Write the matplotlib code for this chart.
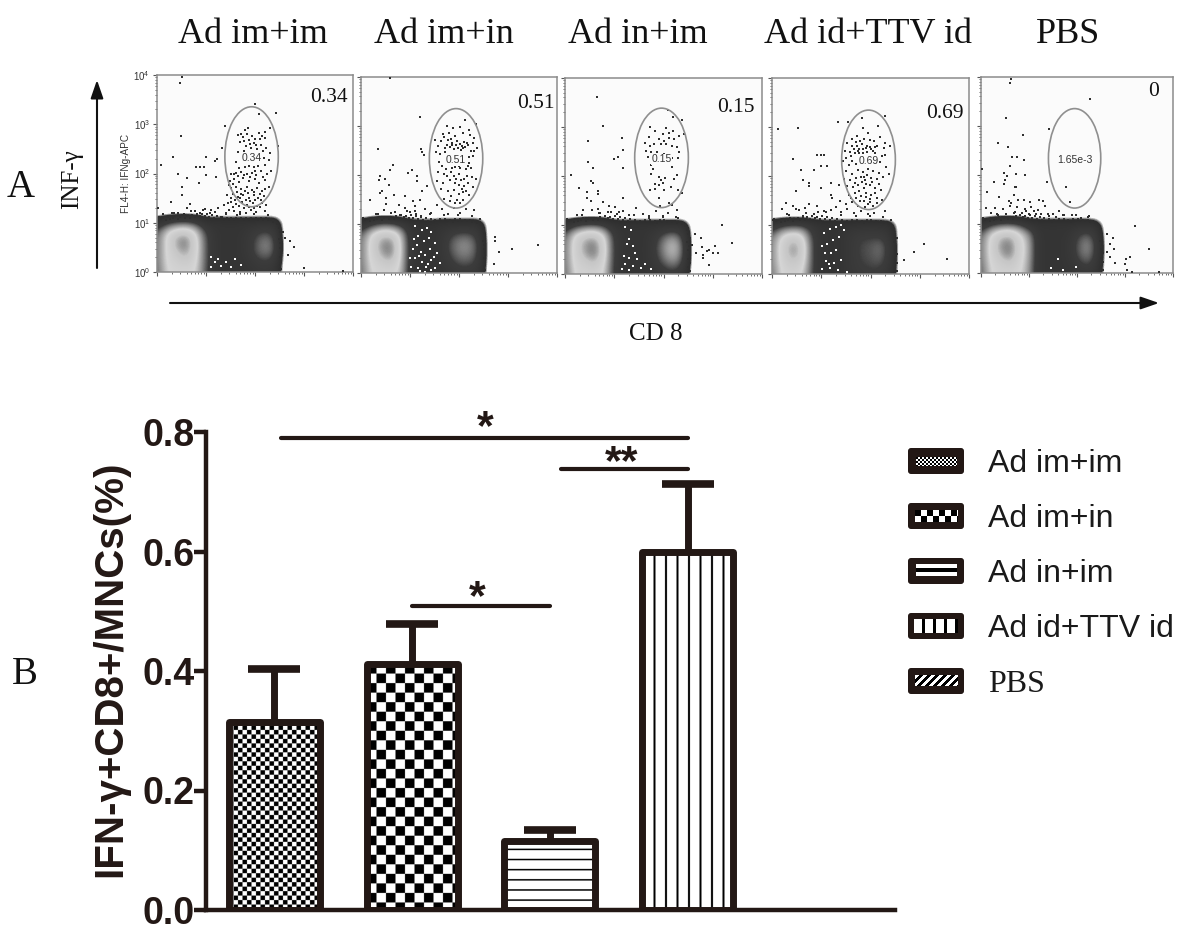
# chart: flow cytometry panels (A) and IFN-gamma bar chart (B)
import numpy as np
import matplotlib
matplotlib.use("Agg")
import matplotlib.pyplot as plt
from matplotlib.colors import LinearSegmentedColormap
from matplotlib.patches import Ellipse, FancyBboxPatch

# =========================
# DATA
# =========================
groups = ["Ad im+im", "Ad im+in", "Ad in+im", "Ad id+TTV id", "PBS"]
means = [0.315, 0.411, 0.116, 0.60, 0.0]
errors = [0.088, 0.068, 0.018, 0.113, 0.0]
y_ticks = [0.0, 0.2, 0.4, 0.6, 0.8]

header_pct = ["0.34", "0.51", "0.15", "0.69", "0"]
gate_text = ["0.34", "0.51", "0.15", "0.69", "1.65e-3"]
gate_x = [1.93, 1.94, 1.96, 1.96, 1.95]
gate_y = [2.34, 2.34, 2.37, 2.33, 2.34]

# density of the two cell populations, rows from y=0 to y=1.2, columns from x=0 to x=2.8 (decades)
density_1 = [
    [.52, .74, .76, .76, .74, .48, .32, .30, .30, .30, .34, .38, .32, 0, 0],
    [.55, .76, .80, .85, .76, .50, .32, .30, .30, .32, .42, .46, .40, 0, 0],
    [.55, .76, .88, .95, .78, .50, .32, .30, .30, .36, .50, .58, .50, 0, 0],
    [.55, .76, .95, 1.0, .78, .50, .32, .30, .30, .36, .50, .60, .50, 0, 0],
    [.52, .74, .85, .88, .74, .46, .32, .30, .30, .34, .44, .50, .42, 0, 0],
    [.28, .42, .50, .52, .44, .28, .28, .28, .28, .28, .28, .28, .28, .04, 0],
    [0, 0, 0, 0, 0, 0, 0, 0, 0, 0, 0, 0, 0, 0, 0],
]
density_2 = [
    [.52, .74, .76, .76, .72, .36, .28, .28, .30, .34, .40, .40, .34, 0, 0],
    [.55, .76, .82, .88, .74, .38, .28, .28, .32, .42, .50, .50, .42, 0, 0],
    [.55, .78, .92, 1.0, .76, .38, .28, .28, .34, .48, .58, .58, .46, 0, 0],
    [.55, .78, .95, 1.0, .76, .38, .28, .28, .34, .50, .60, .60, .46, 0, 0],
    [.52, .74, .85, .86, .72, .36, .28, .28, .32, .44, .50, .50, .40, 0, 0],
    [.28, .42, .52, .52, .42, .28, .26, .24, .28, .28, .28, .28, .28, .03, 0],
    [0, 0, 0, 0, 0, 0, 0, 0, 0, 0, 0, 0, 0, 0, 0],
]
density_3 = [
    [.52, .76, .78, .78, .74, .42, .30, .30, .30, .32, .38, .42, .34, 0, 0],
    [.55, .78, .82, .88, .76, .44, .30, .30, .30, .38, .50, .58, .46, 0, 0],
    [.55, .80, .92, 1.0, .80, .44, .30, .30, .30, .42, .58, .70, .52, 0, 0],
    [.55, .80, .95, 1.0, .80, .44, .30, .30, .30, .42, .60, .72, .52, 0, 0],
    [.52, .76, .85, .88, .74, .42, .30, .30, .30, .38, .50, .58, .44, 0, 0],
    [.28, .42, .50, .52, .44, .28, .28, .28, .28, .28, .28, .28, .28, .03, 0],
    [0, 0, 0, 0, 0, 0, 0, 0, 0, 0, 0, 0, 0, 0, 0],
]
density_4 = [
    [.54, .76, .78, .76, .50, .30, .28, .30, .38, .42, .44, .42, .32, 0, 0],
    [.58, .78, .85, .82, .52, .30, .28, .30, .40, .46, .48, .50, .38, 0, 0],
    [.58, .80, .95, .88, .52, .30, .28, .30, .40, .48, .50, .55, .40, 0, 0],
    [.58, .80, .95, .88, .52, .30, .28, .30, .40, .48, .50, .55, .40, 0, 0],
    [.54, .74, .80, .78, .48, .30, .28, .30, .38, .44, .44, .44, .34, 0, 0],
    [.30, .42, .48, .46, .36, .28, .28, .28, .28, .28, .28, .28, .26, .03, 0],
    [0, 0, 0, 0, 0, 0, 0, 0, 0, 0, 0, 0, 0, 0, 0],
]
density_5 = [
    [.50, .74, .78, .78, .76, .62, .32, .30, .30, .30, .34, .38, .32, 0, 0],
    [.54, .76, .82, .88, .78, .64, .32, .30, .30, .32, .42, .52, .38, 0, 0],
    [.55, .78, .92, 1.0, .80, .66, .32, .30, .30, .34, .50, .60, .44, 0, 0],
    [.55, .78, .95, 1.0, .80, .66, .32, .30, .30, .34, .50, .62, .44, 0, 0],
    [.52, .74, .85, .88, .76, .60, .32, .30, .30, .32, .44, .52, .38, 0, 0],
    [.28, .42, .50, .52, .46, .30, .28, .28, .28, .28, .28, .28, .24, .02, 0],
    [0, 0, 0, 0, 0, 0, 0, 0, 0, 0, 0, 0, 0, 0, 0],
]

# single events, (x, y) in decades
events_1 = [
    (.52, 3.95), (.46, 3.83), (.49, 2.77), (.33, 2.33), (.08, 2.18), (.43, 2.0), (.61, 1.91), (.80, 2.14),
    (.88, 2.14), (.96, 2.14), (.99, 2.33), (.99, 1.96), (.85, 1.81), (.52, 1.72), (.52, 1.56), (1.19, 2.26),
    (1.23, 2.29), (1.21, 1.92), (1.32, 2.51), (1.39, 2.96), (2.01, 3.42), (2.08, 3.2), (2.42, 3.23), (2.47, 2.56),
    (1.79, 2.89), (1.86, 2.93), (1.72, 2.8), (1.65, 2.78), (1.93, 2.76), (2.08, 2.82), (2.2, 2.85), (2.3, 2.92),
    (1.77, 2.66), (1.88, 2.68), (1.98, 2.62), (2.1, 2.7), (2.2, 2.72), (2.13, 2.58), (1.7, 2.63), (1.82, 2.55),
    (1.92, 2.52), (2.05, 2.5), (2.22, 2.52), (2.3, 2.42), (1.66, 2.44), (1.73, 2.38), (2.29, 2.27), (2.18, 2.32),
    (1.62, 2.24), (1.68, 2.12), (1.8, 2.14), (1.88, 2.15), (1.97, 2.14), (2.06, 2.15), (2.2, 2.18), (2.32, 2.05),
    (1.52, 2.0), (1.61, 2.02), (1.72, 2.03), (1.83, 1.98), (1.94, 2.02), (2.03, 1.96), (2.12, 2.05), (2.25, 1.98),
    (1.48, 1.85), (1.58, 1.88), (1.68, 1.82), (1.76, 1.9), (1.87, 1.84), (1.99, 1.88), (2.09, 1.8), (2.2, 1.86),
    (1.5, 1.7), (1.62, 1.73), (1.72, 1.68), (1.84, 1.72), (1.93, 1.66), (2.04, 1.7), (2.14, 1.64), (2.28, 1.72),
    (1.42, 1.56), (1.55, 1.58), (1.65, 1.52), (1.76, 1.56), (1.88, 1.5), (1.97, 1.56), (2.07, 1.5), (2.18, 1.54),
    (1.52, 1.42), (1.62, 1.38), (1.74, 1.42), (1.83, 1.36), (1.95, 1.4), (2.05, 1.34), (2.14, 1.4), (2.22, 1.36),
    (1.25, 1.3), (1.36, 1.36), (1.46, 1.26), (1.58, 1.24), (1.7, 1.22), (1.82, 1.2), (1.92, 1.25), (2.03, 1.22),
    (.03, 1.3), (.12, 1.18), (.28, 1.42), (.31, 1.2), (.42, 1.2), (.55, 1.18), (.62, 1.3), (.68, 1.38),
    (.78, 1.24), (.88, 1.2), (.97, 1.28), (1.08, 1.2), (1.18, 1.22), (1.3, 1.12), (2.58, .82), (2.62, .7),
    (2.72, .62), (2.8, .5), (2.68, .35), (3.0, .08), (3.8, .02),
    (1.76, 2.74), (1.84, 2.8), (2.0, 2.7), (2.15, 2.76), (1.9, 2.6), (2.02, 2.58), (2.16, 2.46), (1.78, 2.46),
    (1.58, 1.98), (1.66, 1.94), (1.78, 1.96), (1.9, 1.92), (2.0, 2.06), (2.16, 1.92), (1.46, 1.76), (1.56, 1.78),
    (1.64, 1.62), (1.72, 1.58), (1.8, 1.64), (1.86, 1.6), (1.98, 1.62), (2.1, 1.58), (2.2, 1.68), (1.5, 1.5),
    (1.6, 1.46), (1.7, 1.5), (1.82, 1.46), (1.9, 1.44), (2.0, 1.46), (2.12, 1.46), (1.44, 1.4), (1.56, 1.32),
    (1.68, 1.34), (1.78, 1.3), (1.88, 1.32), (1.98, 1.3), (2.1, 1.32), (2.2, 1.24), (1.4, 1.18), (1.64, 1.16),
]
events_2 = [
    (.59, 3.98), (1.21, 3.18), (.34, 2.54), (1.22, 2.54), (1.24, 2.46), (1.29, 2.41), (.65, 2.21), (.59, 2.11),
    (1.05, 2.11), (.96, 2.04), (.39, 1.97), (.36, 1.9), (.48, 1.92), (.58, 1.79), (1.14, 1.97), (1.14, 1.88),
    (1.35, 1.77), (1.24, 1.67), (.43, 1.67), (.39, 1.63), (.67, 1.6), (.9, 1.58), (.52, 1.54), (.18, 1.48),
    (.5, 1.41), (.77, 1.38), (1.07, 1.46), (1.21, 1.48), (.46, 1.29), (.9, 1.33), (1.11, 1.36), (3.08, .49),
    (3.61, .58), (2.73, .73), (2.74, .65), (2.81, .42), (2.71, .19), (2.12, 3.12), (2.34, 3.05), (1.75, 3.0),
    (1.88, 2.96), (2.02, 2.98), (2.2, 2.92), (1.68, 2.84), (1.8, 2.86), (1.92, 2.8), (2.08, 2.85), (2.22, 2.82),
    (2.3, 2.76), (1.52, 2.72), (1.64, 2.7), (1.78, 2.72), (1.86, 2.66), (1.96, 2.7), (2.1, 2.68), (2.18, 2.62),
    (2.28, 2.66), (1.58, 2.6), (1.72, 2.56), (1.82, 2.58), (1.9, 2.54), (1.98, 2.56), (2.04, 2.52), (2.12, 2.58),
    (2.24, 2.5), (2.36, 2.56), (1.53, 2.46), (1.62, 2.42), (2.2, 2.36), (2.28, 2.38), (2.18, 2.18), (1.6, 2.26),
    (1.65, 2.18), (1.82, 2.22), (1.92, 2.16), (2.03, 2.14), (2.14, 2.12), (2.24, 2.14), (1.58, 2.06), (1.7, 2.02),
    (1.84, 2.06), (1.9, 1.98), (2.0, 2.03), (2.1, 1.92), (2.26, 1.96), (2.34, 1.92), (1.55, 1.88), (1.68, 1.84),
    (1.82, 1.9), (1.92, 1.84), (2.0, 1.8), (2.1, 1.78), (2.18, 1.84), (2.28, 1.76), (1.64, 1.72), (1.78, 1.68),
    (1.9, 1.7), (2.0, 1.62), (2.08, 1.66), (2.2, 1.6), (1.7, 1.52), (1.82, 1.46), (1.96, 1.5), (2.08, 1.48),
    (1.3, 1.3), (1.42, 1.22), (1.55, 1.38), (1.66, 1.3), (1.78, 1.2), (1.9, 1.32), (2.02, 1.22), (2.14, 1.3),
    (2.3, 1.28), (.3, 1.2), (.62, 1.22), (.8, 1.18), (1.0, 1.24), (1.12, 1.2), (1.22, 1.16), (2.42, 1.1),
    (1.7, 2.78), (1.84, 2.74), (1.94, 2.62), (2.02, 2.64), (2.08, 2.56), (2.16, 2.66), (1.76, 2.62), (1.86, 2.62),
    (1.72, 2.46), (2.3, 2.5), (2.06, 2.6), (1.74, 2.12), (1.86, 2.14), (2.0, 2.18), (2.2, 2.24), (1.76, 1.98),
    (1.94, 1.92), (2.04, 1.9), (2.16, 1.98), (2.06, 1.72), (2.14, 1.68), (1.84, 1.58), (2.02, 1.42), (1.92, 1.42),
]
events_3 = [
    (.65, 3.61), (.78, 3.03), (.47, 2.72), (1.16, 2.78), (1.18, 2.53), (1.08, 2.38), (1.0, 2.34), (.47, 2.28),
    (.56, 2.17), (1.18, 2.17), (.12, 2.03), (.53, 1.9), (.56, 1.86), (.28, 1.76), (.44, 1.67), (.67, 1.7),
    (.67, 1.63), (.44, 1.56), (.53, 1.5), (1.18, 1.56), (.78, 1.47), (2.1, 3.35), (2.2, 3.2), (2.38, 3.14),
    (2.42, 2.85), (1.72, 3.0), (1.82, 2.92), (1.98, 2.86), (2.05, 2.98), (2.12, 2.88), (2.2, 2.92), (1.7, 2.8),
    (1.9, 2.75), (2.02, 2.72), (2.12, 2.78), (2.22, 2.75), (2.32, 2.82), (1.62, 2.68), (1.72, 2.62), (1.8, 2.66),
    (1.95, 2.65), (2.05, 2.66), (2.18, 2.62), (2.28, 2.6), (1.65, 2.52), (1.75, 2.48), (1.86, 2.5), (2.0, 2.44),
    (2.32, 2.5), (1.68, 2.38), (2.18, 2.36), (2.3, 2.36), (1.74, 2.22), (1.78, 2.14), (1.9, 2.24), (2.18, 2.18),
    (1.75, 2.04), (1.9, 1.98), (1.94, 1.92), (2.04, 1.96), (2.22, 1.94), (2.28, 2.02), (1.82, 1.84), (1.9, 1.82),
    (1.98, 1.86), (1.72, 1.72), (1.82, 1.74), (2.02, 1.72), (2.15, 1.78), (2.3, 1.72), (2.38, 1.65), (1.9, 1.55),
    (2.12, 1.45), (1.84, 1.28), (1.92, 1.38), (2.18, 1.4), (2.28, 1.3), (1.45, 1.35), (1.58, 1.22), (1.3, 1.2),
    (1.18, 1.28), (.55, 1.3), (.68, 1.32), (.9, 1.38), (1.02, 1.36), (.36, 1.3), (.24, 1.2), (.72, 1.24),
    (.88, 1.26), (1.06, 1.22), (1.7, 1.15), (1.98, 1.16), (2.1, 1.24), (2.3, 1.14), (3.18, 1.0), (2.76, .73),
    (2.78, .56), (2.92, .5), (3.04, .58), (2.88, .46), (3.0, .42), (3.1, .42), (2.8, .38), (2.8, .32),
    (2.92, .18), (3.4, .64), (2.64, .82), (2.58, .6), (2.66, .42),
]
events_4 = [
    (.12, 2.95), (.52, 2.98), (1.35, 3.1), (2.3, 3.22), (1.82, 3.18), (1.55, 3.1), (2.16, 3.02), (.42, 2.35),
    (.58, 2.12), (.86, 2.12), (.92, 2.42), (1.0, 2.42), (1.06, 2.42), (1.12, 2.2), (1.0, 2.2), (.62, 1.92),
    (.75, 1.85), (.75, 1.8), (.48, 1.7), (1.0, 1.75), (1.2, 1.85), (.28, 1.45), (.48, 1.32), (.75, 1.42),
    (.92, 1.38), (1.2, 1.62), (1.22, 1.55), (.3, 1.22), (.55, 1.3), (.62, 1.18), (.85, 1.22), (1.05, 1.28),
    (1.2, 1.3), (3.08, .62), (3.55, .3), (2.88, .45), (2.68, .28), (1.62, 2.75), (1.72, 2.82), (1.85, 2.98),
    (1.95, 2.88), (2.08, 2.72), (2.2, 2.8), (2.3, 2.68), (1.52, 2.68), (1.62, 2.62), (1.72, 2.62), (1.82, 2.66),
    (1.92, 2.62), (2.02, 2.56), (2.14, 2.62), (2.28, 2.58), (2.4, 2.62), (1.48, 2.52), (1.58, 2.48), (1.68, 2.46),
    (1.76, 2.46), (1.84, 2.46), (1.92, 2.5), (2.1, 2.46), (2.3, 2.42), (1.44, 2.3), (1.56, 2.22), (1.62, 2.3),
    (2.2, 2.28), (2.32, 2.18), (1.5, 2.1), (1.62, 2.05), (1.74, 2.12), (1.84, 2.08), (1.94, 2.14), (2.06, 2.1),
    (2.18, 2.06), (2.38, 2.04), (1.46, 1.94), (1.58, 1.92), (1.7, 1.96), (1.8, 1.98), (1.88, 1.92), (1.92, 2.02),
    (2.02, 1.96), (2.14, 1.94), (2.26, 1.98), (1.36, 1.82), (1.52, 1.8), (1.64, 1.78), (1.74, 1.82), (1.86, 1.76),
    (1.98, 1.82), (2.1, 1.76), (2.22, 1.72), (1.56, 1.62), (1.68, 1.66), (1.8, 1.6), (1.9, 1.66), (2.02, 1.62),
    (2.14, 1.56), (2.24, 1.52), (1.38, 1.48), (1.5, 1.42), (1.62, 1.46), (1.74, 1.38), (1.86, 1.5), (1.94, 1.42),
    (2.06, 1.38), (1.3, 1.36), (1.4, 1.26), (1.52, 1.32), (1.66, 1.24), (1.8, 1.28), (1.94, 1.22), (2.08, 1.24),
    (2.3, 1.28), (2.42, 1.1), (.2, 1.32), (.42, 1.38), (.68, 1.34), (.02, 1.1),
    (1.7, 2.7), (1.78, 2.72), (1.86, 2.76), (1.98, 2.74), (2.1, 2.6), (1.76, 2.56), (1.84, 2.56), (1.9, 2.58),
    (1.98, 2.6), (2.06, 2.52), (1.66, 2.56), (1.74, 2.52), (1.6, 2.4), (1.5, 2.36), (2.24, 2.4), (1.7, 2.24),
    (1.82, 1.88), (1.86, 1.98), (1.9, 1.84), (1.68, 1.86), (2.04, 1.88), (2.18, 1.84), (1.76, 1.7), (1.9, 1.58),
    (1.98, 1.54), (2.1, 1.66), (1.7, 1.56), (1.6, 1.56), (1.78, 1.48), (1.98, 1.46), (2.14, 1.44), (1.88, 1.36),
]
events_5 = [
    (.63, 3.95), (.6, 3.88), (2.28, 3.55), (.53, 3.17), (1.42, 2.93), (.88, 2.82), (.35, 2.66), (.56, 2.58),
    (.65, 2.36), (.76, 2.36), (.9, 2.3), (.6, 2.18), (.03, 2.12), (.48, 2.05), (.55, 1.98), (.72, 2.03),
    (.92, 2.0), (.28, 1.86), (.48, 1.82), (.5, 1.9), (.7, 1.76), (.73, 1.76), (1.38, 1.85), (1.78, 1.75),
    (.13, 1.66), (.38, 1.55), (.68, 1.6), (1.86, 1.45), (.58, 1.46), (.62, 1.42), (.78, 1.48), (.9, 1.48),
    (1.02, 1.44), (1.2, 1.5), (1.3, 1.46), (.1, 1.32), (.3, 1.32), (.45, 1.3), (.6, 1.36), (.75, 1.34),
    (.92, 1.3), (1.05, 1.34), (1.18, 1.28), (1.34, 1.36), (1.5, 1.2), (1.62, 1.26), (.2, 1.22), (.36, 1.18),
    (.52, 1.2), (.68, 1.22), (.85, 1.22), (1.0, 1.2), (1.14, 1.2), (1.26, 1.2), (1.42, 1.16), (1.56, 1.14),
    (1.72, 1.18), (1.9, 1.18), (2.08, 1.12), (2.22, 1.14), (2.62, .8), (2.74, .72), (2.68, .6), (2.78, .5),
    (2.62, .42), (2.68, .32), (2.8, .2), (3.0, .18), (3.02, .28), (3.1, .32), (3.5, .5), (3.2, .95),
    (3.05, .06), (3.15, .03), (3.7, .02),
]
# rough top and right border of the dark area, about the same in every panel
rim_events = [
    (.04, 1.12), (.08, 1.08), (.13, 1.1), (.18, 1.06), (.22, 1.12), (.27, 1.08), (.32, 1.1), (.37, 1.14),
    (.42, 1.08), (.47, 1.12), (.52, 1.15), (.57, 1.1), (.62, 1.14), (.67, 1.1), (.72, 1.16), (.77, 1.12),
    (.82, 1.18), (.87, 1.14), (.92, 1.17), (.97, 1.13), (1.02, 1.18), (1.07, 1.12), (1.12, 1.16), (1.17, 1.1),
    (1.22, 1.14), (1.27, 1.08), (1.32, 1.12), (1.37, 1.06), (1.42, 1.1), (1.47, 1.05), (1.52, 1.09), (1.57, 1.06),
    (1.62, 1.1), (1.67, 1.07), (1.72, 1.1), (1.77, 1.06), (1.82, 1.09), (1.87, 1.05), (1.92, 1.1), (1.97, 1.07),
    (2.02, 1.1), (2.07, 1.06), (2.12, 1.09), (2.17, 1.06), (2.22, 1.09), (2.27, 1.05), (2.32, 1.06), (2.37, 1.02),
    (2.44, .98), (2.48, .9), (2.5, .82), (2.53, .74), (2.48, .66), (2.52, .58), (2.5, .48), (2.54, .4),
    (2.5, .3), (2.54, .22), (2.5, .14), (2.54, .06), (.34, 1.2), (.7, 1.24), (.94, 1.26), (1.1, 1.26), (1.4, 1.2),
    (1.7, 1.18), (1.98, 1.18), (2.26, 1.16),
]
# white gaps inside the dark area
holes_1 = [(1.1, .1), (1.18, .2), (1.3, .12), (1.4, .2), (1.5, .1), (1.6, .26), (1.72, .14), (1.1, .3), (1.25, .26)]
holes_2 = [
    (1.02, .12), (1.1, .3), (1.16, .1), (1.24, .22), (1.32, .12), (1.42, .26), (1.52, .1), (1.62, .2),
    (1.06, .48), (1.14, .58), (1.22, .42), (1.3, .36), (1.4, .5), (1.48, .32), (1.16, .76), (1.28, .66),
    (1.38, .72), (1.24, .88), (1.34, .92), (1.42, .84), (1.1, .96), (1.0, .3), (1.56, .4), (1.3, .02),
    (1.42, .06), (1.2, .05), (1.5, .62), (1.08, .7), (1.18, .34), (1.36, .18),
]
holes_3 = [
    (1.15, .1), (1.22, .2), (1.3, .08), (1.38, .16), (1.46, .3), (1.55, .12), (1.62, .2), (1.75, .1),
    (1.2, .36), (1.3, .32), (1.42, .42), (1.25, .62), (1.3, .72), (1.38, .58), (1.22, .95), (1.34, .9),
]
holes_4 = [
    (1.02, .1), (1.1, .26), (1.18, .12), (1.26, .22), (1.34, .08), (1.4, .28), (1.08, .42), (1.2, .42),
    (1.3, .5), (1.12, .62), (1.24, .7), (1.36, .76), (1.06, .84), (1.18, .92), (1.3, .96), (1.4, 1.0),
    (1.52, .04), (1.16, .2), (1.02, .58), (1.46, .9),
]
holes_5 = [(1.46, .1), (1.7, .06), (1.6, .28), (1.98, .12)]

legend_items = [
    ("Ad im+im", "sans"), ("Ad im+in", "sans"), ("Ad in+im", "sans"), ("Ad id+TTV id", "sans"), ("PBS", "serif"),
]

# =========================
# SETUP
# =========================
W, H = 1200, 933
DARK = "#231815"
SANS = "Liberation Sans"
SERIF = "Liberation Serif"


def px_axes(left, top, right, bottom, **kw):
    return fig.add_axes([left / W, 1 - bottom / H, (right - left) / W, (bottom - top) / H], **kw)


def checker(w, h, cell):
    yy, xx = np.indices((h, w))
    return ((xx // cell + yy // cell) % 2).astype(float)


def stripes(w, h, pitch, thick, vertical=False):
    yy, xx = np.indices((h, w))
    c = xx if vertical else yy
    return (c % pitch < pitch - thick).astype(float)


def diagonal(w, h, pitch, thick):
    yy, xx = np.indices((h, w))
    return ((xx + yy) % pitch < pitch - thick).astype(float)


plt.rcParams["font.family"] = [SANS, "DejaVu Sans"]
plt.rcParams["mathtext.fontset"] = "custom"
plt.rcParams["mathtext.rm"] = SANS
fig = plt.figure(figsize=(W / 100, H / 100), dpi=100, facecolor="white")

# =========================
# A. DOT PLOTS
# =========================
panel_boxes = [(157, 75, 353, 272), (361, 77, 557, 273), (565, 78, 762, 274), (772, 78, 969, 274), (981, 77, 1173, 273)]
densities = [density_1, density_2, density_3, density_4, density_5]
all_events = [events_1, events_2, events_3, events_4, events_5]
all_holes = [holes_1, holes_2, holes_3, holes_4, holes_5]
flow_cmap = LinearSegmentedColormap.from_list("flow", [
    (0.0, "#fbfbfb"), (0.10, "#fbfbfb"), (0.16, "#2e2e2e"), (0.46, "#3c3c3c"), (0.60, "#8d8d8d"),
    (0.74, "#d6d6d6"), (0.88, "#c6c6c6"), (1.0, "#6f6f6f"),
])
minor = [d + np.log10(k) for d in range(4) for k in range(2, 10)]

for i, box in enumerate(panel_boxes):
    ax = px_axes(*box, facecolor="#fbfbfb")
    ax.imshow(densities[i], origin="lower", extent=[-0.1, 2.9, -0.1, 1.3], cmap=flow_cmap, vmin=0, vmax=1,
              interpolation="bicubic", interpolation_stage="data", aspect="auto", zorder=1)
    hx, hy = zip(*all_holes[i])
    ax.scatter(hx, hy, s=4, marker="s", color="#fbfbfb", linewidths=0, zorder=2)
    ex, ey = zip(*(all_events[i] + rim_events))
    ax.scatter(ex, ey, s=3.5, marker="s", color="#2f2f2f", linewidths=0, zorder=3, clip_on=False)
    ax.add_patch(Ellipse((gate_x[i], gate_y[i]), 1.09, 2.03, fill=False, edgecolor="#8f8f8f", lw=1.2, zorder=4))
    ax.text(gate_x[i], gate_y[i] - 0.03, gate_text[i], ha="center", va="center", fontsize=7.5, color="#333333",
            zorder=5, bbox=dict(boxstyle="square,pad=0.08", facecolor="#fbfbfb", edgecolor="none"))
    ax.set_xlim(0, 4)
    ax.set_ylim(0, 4)
    ax.set_xticks(range(5))
    ax.set_yticks(range(5))
    ax.set_xticks(minor, minor=True)
    ax.set_yticks(minor, minor=True)
    ax.tick_params(which="major", length=3, width=0.8, color="#555555", labelbottom=False, labelleft=False)
    ax.tick_params(which="minor", length=1.5, width=0.6, color="#555555")
    for s in ax.spines.values():
        s.set_color("#8c8c8c")
        s.set_linewidth(1.1)
    if i == 0:
        ax.tick_params(which="major", labelleft=True, labelsize=7, labelcolor="#333333", pad=2)
        ax.set_yticklabels([r"$\mathregular{10^{%d}}$" % d for d in range(5)])
        ax.set_ylabel("FL4-H: IFNg-APC", fontsize=7.2, color="#333333", labelpad=2)

# =========================
# B. BAR CHART
# =========================
ax2 = px_axes(206, 432, 895, 910, facecolor="none")
x = np.arange(len(groups))
BAR_W = 0.66
bars = ax2.bar(x, means, width=BAR_W, facecolor="none", edgecolor=DARK, linewidth=5, joinstyle="round", zorder=3)
bars[-1].set_visible(False)
_, caps, _ = ax2.errorbar(x[:-1], means[:-1], yerr=[np.zeros(4), errors[:-1]], fmt="none", ecolor=DARK, elinewidth=5,
                          capsize=18.5, capthick=5.5, zorder=2)
caps[0].set_visible(False)

fills = [checker(182, 380, 9), checker(182, 490, 19), stripes(182, 138, 20, 3),
         np.roll(stripes(182, 716, 23, 4, vertical=True), 4, axis=1)]
for k in range(4):
    ax2.imshow(fills[k], extent=[x[k] - BAR_W / 2, x[k] + BAR_W / 2, 0, means[k]], cmap="gray", vmin=0, vmax=1,
               aspect="auto", zorder=1)

ax2.set_xlim(-0.497, 4.506)
ax2.set_ylim(0, 0.8)
ax2.set_xticks([])
ax2.set_yticks(y_ticks)
ax2.set_yticklabels([f"{v:.1f}" for v in y_ticks], fontsize=27, fontweight="bold", color=DARK)
ax2.tick_params(axis="y", length=8.5, width=3.2, color=DARK, pad=-0.5)
ax2.spines["top"].set_visible(False)
ax2.spines["right"].set_visible(False)
for side in ["left", "bottom"]:
    ax2.spines[side].set_linewidth(3.2)
    ax2.spines[side].set_color(DARK)
    ax2.spines[side].set_capstyle("projecting")

# significance lines
for x0, x1, yy in [(0.05, 3.0, 0.79), (2.08, 3.0, 0.738), (1.0, 2.0, 0.509)]:
    ax2.plot([x0, x1], [yy, yy], color=DARK, lw=3, clip_on=False, solid_capstyle="round", zorder=5)

# =========================
# TEXT, ARROWS, LEGEND
# =========================
top = fig.add_axes([0, 0, 1, 1], facecolor="none", zorder=10)
top.set_xlim(0, W)
top.set_ylim(H, 0)
top.axis("off")

for label, cx in zip(groups, [252.5, 443.5, 638, 867.5, 1068]):
    top.text(cx, 43, label, family=SERIF, fontsize=26, ha="center", va="baseline", color="#111111")
for pct, (px, py) in zip(header_pct, [(329, 98), (536, 103), (736, 108), (945, 113), (1154, 92)]):
    top.text(px, py, pct, family=SERIF, fontsize=15.5, ha="center", va="center", color="#111111")

top.text(21, 197, "A", family=SERIF, fontsize=28, ha="center", va="baseline", color="#111111")
top.text(25, 684, "B", family=SERIF, fontsize=28, ha="center", va="baseline", color="#111111")
top.text(72, 179, "INF-γ", family=SERIF, fontsize=18, rotation=90, ha="center", va="center", color="#111111")
top.text(656, 340, "CD 8", family=SERIF, fontsize=18, ha="center", va="baseline", color="#111111")

top.annotate("", xy=(97, 80), xytext=(97, 268), arrowprops=dict(arrowstyle="-|>,head_length=1.1,head_width=0.38",
             color="#111111", lw=1.5, shrinkA=0, shrinkB=0))
top.annotate("", xy=(1159, 303), xytext=(170, 303), arrowprops=dict(arrowstyle="-|>,head_length=1.1,head_width=0.38",
             color="#111111", lw=1.5, shrinkA=0, shrinkB=0))

top.text(110, 669, "IFN-γ+CD8+/MNCs(%)", fontsize=29, fontweight="bold", rotation=90, ha="center", va="center",
         color=DARK)
for sx, sy, star in [(485, 439, "*"), (622, 474, "**"), (477, 609, "*")]:
    top.text(sx, sy, star, fontsize=31, fontweight="bold", ha="center", va="baseline", color=DARK)

swatch_tops = [448, 503, 558, 613, 668]
swatch_fills = [
    checker(41, 9, 2), checker(43, 12, 6), stripes(41, 12, 8, 4), stripes(44, 14, 11, 3, vertical=True),
    diagonal(43, 11, 8, 4),
]
inner_boxes = [(916, 9), (915, 7), (916, 6), (914, 6), (915, 7)]
for k, (label, fam) in enumerate(legend_items):
    st = swatch_tops[k]
    top.add_patch(FancyBboxPatch((908, st), 56, 26, boxstyle="round,pad=0,rounding_size=3", facecolor=DARK,
                                 edgecolor="none", zorder=2))
    arr = swatch_fills[k]
    ix, iy = inner_boxes[k]
    top.imshow(arr, extent=[ix, ix + arr.shape[1], st + iy + arr.shape[0], st + iy], cmap="gray", vmin=0, vmax=1,
               aspect="auto", interpolation="nearest", zorder=3)
    top.text(988, st + 24, label, family=SERIF if fam == "serif" else SANS, fontsize=23, ha="left", va="baseline",
             color="#1a1a1a")
top.set_xlim(0, W)
top.set_ylim(H, 0)

fig.savefig("out.png", dpi=100)
